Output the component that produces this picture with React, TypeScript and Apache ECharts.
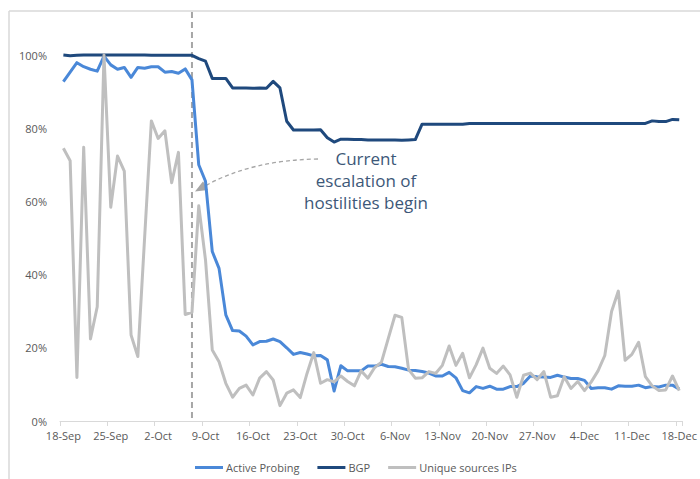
import React, { useEffect, useRef } from "react";
import * as echarts from "echarts";

const dates: string[] = [
  "18-Sep", "19-Sep", "20-Sep", "21-Sep", "22-Sep", "23-Sep", "24-Sep", "25-Sep", "26-Sep", "27-Sep",
  "28-Sep", "29-Sep", "30-Sep", "1-Oct", "2-Oct", "3-Oct", "4-Oct", "5-Oct", "6-Oct", "7-Oct",
  "8-Oct", "9-Oct", "10-Oct", "11-Oct", "12-Oct", "13-Oct", "14-Oct", "15-Oct", "16-Oct", "17-Oct",
  "18-Oct", "19-Oct", "20-Oct", "21-Oct", "22-Oct", "23-Oct", "24-Oct", "25-Oct", "26-Oct", "27-Oct",
  "28-Oct", "29-Oct", "30-Oct", "31-Oct", "1-Nov", "2-Nov", "3-Nov", "4-Nov", "5-Nov", "6-Nov",
  "7-Nov", "8-Nov", "9-Nov", "10-Nov", "11-Nov", "12-Nov", "13-Nov", "14-Nov", "15-Nov", "16-Nov",
  "17-Nov", "18-Nov", "19-Nov", "20-Nov", "21-Nov", "22-Nov", "23-Nov", "24-Nov", "25-Nov", "26-Nov",
  "27-Nov", "28-Nov", "29-Nov", "30-Nov", "1-Dec", "2-Dec", "3-Dec", "4-Dec", "5-Dec", "6-Dec",
  "7-Dec", "8-Dec", "9-Dec", "10-Dec", "11-Dec", "12-Dec", "13-Dec", "14-Dec", "15-Dec", "16-Dec",
  "17-Dec", "18-Dec",
];

const activeProbing: number[] = [
  0.927, 0.953, 0.979, 0.968, 0.961, 0.956, 0.997, 0.973, 0.961, 0.966,
  0.939, 0.966, 0.964, 0.968, 0.968, 0.953, 0.955, 0.95, 0.962, 0.932,
  0.70, 0.655, 0.463, 0.417, 0.29, 0.247, 0.246, 0.232, 0.208, 0.217,
  0.218, 0.224, 0.217, 0.2, 0.182, 0.187, 0.183, 0.178, 0.179, 0.167,
  0.082, 0.151, 0.137, 0.137, 0.137, 0.15, 0.15, 0.155, 0.149, 0.148,
  0.144, 0.139, 0.138, 0.135, 0.131, 0.123, 0.123, 0.133, 0.118, 0.083,
  0.077, 0.094, 0.089, 0.095, 0.087, 0.087, 0.094, 0.094, 0.103, 0.123,
  0.121, 0.12, 0.119, 0.125, 0.12, 0.116, 0.116, 0.111, 0.089, 0.091,
  0.091, 0.087, 0.096, 0.095, 0.095, 0.098, 0.091, 0.094, 0.093, 0.098,
  0.098, 0.087,
];

const bgp: number[] = [
  1.0, 0.998, 0.999, 1.0, 1.0, 1.0, 1.0, 1.0, 1.0, 1.0,
  1.0, 1.0, 1.0, 0.999, 0.999, 0.999, 0.999, 0.999, 0.999, 0.999,
  0.99, 0.983, 0.936, 0.936, 0.936, 0.91, 0.91, 0.91, 0.909, 0.91,
  0.909, 0.928, 0.91, 0.819, 0.795, 0.795, 0.795, 0.795, 0.796, 0.774,
  0.762, 0.77, 0.77, 0.769, 0.769, 0.768, 0.768, 0.768, 0.768, 0.768,
  0.767, 0.768, 0.769, 0.811, 0.811, 0.811, 0.811, 0.811, 0.811, 0.811,
  0.813, 0.813, 0.813, 0.813, 0.813, 0.813, 0.813, 0.813, 0.813, 0.813,
  0.813, 0.813, 0.813, 0.813, 0.813, 0.813, 0.813, 0.813, 0.813, 0.813,
  0.813, 0.813, 0.813, 0.813, 0.813, 0.813, 0.813, 0.82, 0.818, 0.818,
  0.824, 0.823,
];

const uniqueIPs: number[] = [
  0.745, 0.711, 0.119, 0.748, 0.224, 0.312, 1.0, 0.584, 0.724, 0.683,
  0.235, 0.176, 0.50, 0.82, 0.772, 0.793, 0.651, 0.734, 0.291, 0.297,
  0.588, 0.44, 0.194, 0.162, 0.103, 0.065, 0.089, 0.098, 0.071, 0.117,
  0.135, 0.112, 0.042, 0.076, 0.085, 0.064, 0.13, 0.187, 0.103, 0.113,
  0.107, 0.123, 0.108, 0.096, 0.137, 0.117, 0.146, 0.161, 0.225, 0.289,
  0.283, 0.141, 0.117, 0.118, 0.135, 0.13, 0.152, 0.205, 0.152, 0.185,
  0.118, 0.154, 0.199, 0.144, 0.13, 0.15, 0.126, 0.065, 0.125, 0.131,
  0.113, 0.135, 0.065, 0.069, 0.121, 0.089, 0.108, 0.083, 0.107, 0.137,
  0.179, 0.299, 0.355, 0.166, 0.182, 0.215, 0.121, 0.096, 0.083, 0.085,
  0.123, 0.083,
];

const seriesNames = ["Active Probing", "BGP", "Unique sources IPs"];
const eventDate = "7-Oct";
const annotation = "Current\nescalation of\nhostilities begin";

const FONT = "'Open Sans', 'Noto Sans', sans-serif";

export default function App() {
  const ref = useRef<HTMLDivElement>(null);

  useEffect(() => {
    if (!ref.current) return;
    const chart = echarts.init(ref.current, null, { renderer: "svg" });
    const option: any = {
      animation: false,
      backgroundColor: "#ffffff",
      textStyle: { fontFamily: FONT },
      grid: { left: 60, right: 14, top: 55, bottom: 58 },
      xAxis: {
        type: "category",
        data: dates,
        boundaryGap: true,
        axisLine: { lineStyle: { color: "#D9D9D9", width: 1 } },
        axisTick: { show: true, interval: 6, length: 5, lineStyle: { color: "#D9D9D9" } },
        axisLabel: { interval: 6, color: "#595959", fontSize: 11, margin: 9, fontFamily: FONT },
        splitLine: { show: false },
      },
      yAxis: {
        type: "value",
        min: 0,
        max: 1,
        interval: 0.2,
        axisLine: { show: false },
        axisTick: { show: false },
        splitLine: { show: false },
        axisLabel: {
          color: "#595959",
          fontSize: 11,
          margin: 13,
          fontFamily: FONT,
          formatter: (v: number) => `${Math.round(v * 100)}%`,
        },
      },
      legend: {
        left: 190,
        top: 457,
        itemWidth: 28,
        itemHeight: 3,
        itemGap: 18,
        icon: "rect",
        textStyle: { color: "#595959", fontSize: 11, fontFamily: FONT, padding: [0, 0, 0, -2] },
        data: seriesNames,
      },
      series: [
        {
          name: seriesNames[0],
          type: "line",
          data: activeProbing,
          symbol: "none",
          color: "#4A88D8",
          lineStyle: { width: 3, color: "#4A88D8", join: "round" },
          clip: false,
        },
        {
          name: seriesNames[1],
          type: "line",
          data: bgp,
          symbol: "none",
          color: "#1F497D",
          lineStyle: { width: 3, color: "#1F497D", join: "round" },
          clip: false,
        },
        {
          name: seriesNames[2],
          type: "line",
          data: uniqueIPs,
          symbol: "none",
          color: "#BFBFBF",
          lineStyle: { width: 3, color: "#BFBFBF", join: "round" },
          clip: false,
        },
      ],
    };
    chart.setOption(option);

    const ex = chart.convertToPixel({ xAxisIndex: 0 }, eventDate) as number;
    const yBase = chart.convertToPixel({ yAxisIndex: 0 }, 0) as number;

    // arrow geometry (annotation)
    const sx = 318, sy = 159, cx = 252, cy = 160, tx = 195, ty = 191.5;
    const dxv = tx - cx, dyv = ty - cy;
    const len = Math.sqrt(dxv * dxv + dyv * dyv);
    const ux = dxv / len, uy = dyv / len;
    const headLen = 12, headHalf = 5;
    const bx = tx - ux * headLen, by = ty - uy * headLen;
    const px = -uy, py = ux;

    chart.setOption({
      graphic: [
        {
          type: "line",
          id: "frameLeft",
          shape: { x1: 9, y1: 11, x2: 9, y2: 479 },
          style: { stroke: "#D9D9D9", lineWidth: 1.5 },
          silent: true,
        },
        {
          type: "line",
          id: "frameTop",
          shape: { x1: 9, y1: 11, x2: 700, y2: 11 },
          style: { stroke: "#D9D9D9", lineWidth: 1.5 },
          silent: true,
        },
        {
          type: "line",
          id: "eventLine",
          shape: { x1: ex, y1: 12, x2: ex, y2: yBase },
          style: { stroke: "#A6A6A6", lineWidth: 2, lineDash: [6, 4] },
          silent: true,
          z: 1,
        },
        {
          type: "bezierCurve",
          id: "arrowCurve",
          shape: { x1: sx, y1: sy, x2: bx, y2: by, cpx1: cx, cpy1: cy },
          style: { stroke: "#A6A6A6", lineWidth: 1.3, lineDash: [4, 3], fill: null },
          silent: true,
        },
        {
          type: "polygon",
          id: "arrowHead",
          shape: {
            points: [
              [tx, ty],
              [bx + px * headHalf, by + py * headHalf],
              [bx - px * headHalf, by - py * headHalf],
            ],
          },
          style: { fill: "#A6A6A6", stroke: "none" },
          silent: true,
        },
        {
          type: "text",
          id: "annotation",
          x: 366,
          y: 147,
          style: {
            text: annotation,
            fill: "#3D5878",
            font: `17px ${FONT}`,
            align: "center",
            verticalAlign: "top",
            lineHeight: 22,
          },
          silent: true,
        },
      ],
    });

    return () => chart.dispose();
  }, []);

  return (
    <div
      ref={ref}
      style={{ position: "fixed", left: 0, top: 0, width: 700, height: 479 }}
    />
  );
}
